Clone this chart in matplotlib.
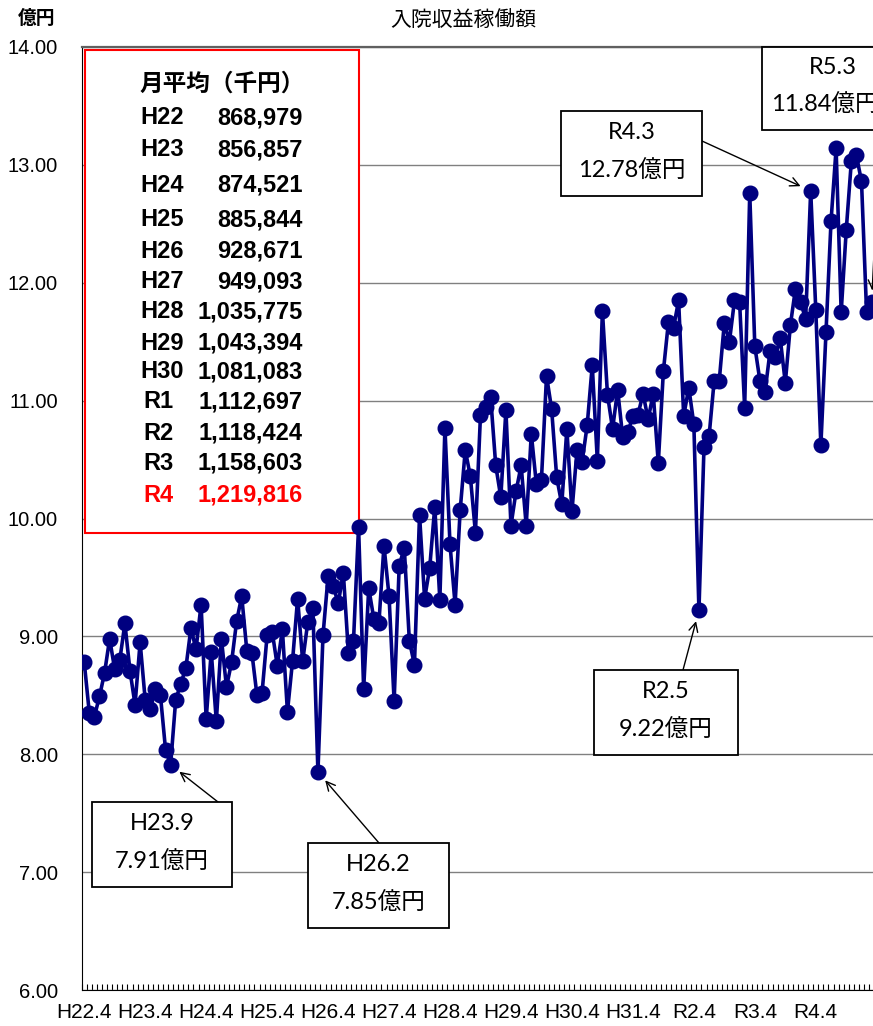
import matplotlib
matplotlib.use("Agg")
import matplotlib.pyplot as plt
from matplotlib.patches import Rectangle
import numpy as np

plt.rcParams['font.family'] = ['Liberation Sans Narrow', 'Liberation Sans', 'Noto Sans CJK JP', 'DejaVu Sans']

# monthly inpatient revenue (億円), H22.4 .. R5.3
revenue = [
    8.78, 8.35, 8.32, 8.49, 8.69, 8.98, 8.72, 8.80, 9.11, 8.71, 8.42, 8.95,
    8.46, 8.38, 8.55, 8.50, 8.04, 7.91, 8.46, 8.60, 8.73, 9.07, 8.89, 9.27,
    8.30, 8.87, 8.28, 8.98, 8.57, 8.78, 9.13, 9.34, 8.88, 8.86, 8.50, 8.52,
    9.01, 9.04, 8.75, 9.06, 8.36, 8.79, 9.32, 8.79, 9.12, 9.24, 7.85, 9.01,
    9.51, 9.43, 9.28, 9.54, 8.86, 8.96, 9.93, 8.55, 9.41, 9.15, 9.11, 9.77,
    9.34, 8.45, 9.60, 9.75, 8.96, 8.76, 10.03, 9.32, 9.58, 10.10, 9.31, 10.77,
    9.78, 9.27, 10.07, 10.58, 10.36, 9.88, 10.88, 10.95, 11.03, 10.45, 10.18, 10.92,
    9.94, 10.23, 10.45, 9.94, 10.72, 10.29, 10.33, 11.21, 10.93, 10.35, 10.12, 10.76,
    10.06, 10.58, 10.48, 10.79, 11.30, 10.49, 11.76, 11.05, 10.76, 11.09, 10.69, 10.73,
    10.87, 10.88, 11.06, 10.84, 11.06, 10.47, 11.25, 11.67, 11.62, 11.85, 10.87, 11.11,
    10.80, 9.22, 10.61, 10.70, 11.17, 11.17, 11.66, 11.50, 11.85, 11.84, 10.94, 12.76,
    11.46, 11.17, 11.07, 11.42, 11.37, 11.53, 11.15, 11.64, 11.95, 11.84, 11.69, 12.78,
    11.77, 10.62, 11.58, 12.52, 13.14, 11.75, 12.45, 13.03, 13.08, 12.86, 11.75, 11.84,
]
year_labels = ['H22.4', 'H23.4', 'H24.4', 'H25.4', 'H26.4', 'H27.4', 'H28.4',
               'H29.4', 'H30.4', 'H31.4', 'R2.4', 'R3.4', 'R4.4']

avg_years = ['H22', 'H23', 'H24', 'H25', 'H26', 'H27', 'H28', 'H29', 'H30',
             'R1', 'R2', 'R3', 'R4']
avg_values = ['868,979', '856,857', '874,521', '885,844', '928,671', '949,093',
              '1,035,775', '1,043,394', '1,081,083', '1,112,697', '1,118,424',
              '1,158,603', '1,219,816']

# (month index, label, value text)
callouts = [
    (17, 'H23.9', '7.91億円'),
    (46, 'H26.2', '7.85億円'),
    (121, 'R2.5', '9.22億円'),
    (143, 'R4.3', '12.78億円'),
    (155, 'R5.3', '11.84億円'),
]

W, H = 873, 1026


def fp(x, y):
    # pixel (from top-left) -> figure fraction
    return (x / W, 1 - y / H)


fig = plt.figure(figsize=(W / 100, H / 100), dpi=100)
ax_left, ax_top, ax_bottom = 81.7, 47, 990
ax = fig.add_axes([ax_left / W, 1 - ax_bottom / H, 792.5 / W, (ax_bottom - ax_top) / H])

x = np.arange(len(revenue))
ax.plot(x, revenue, color='#000080', lw=2.6, marker='o', ms=10.5,
        markerfacecolor='#000080', markeredgecolor='#000080', zorder=3)

ax.set_xlim(-0.5, len(revenue) - 0.5)
ax.set_ylim(6, 14)
ax.set_yticks(np.arange(6, 14.01, 1))
ax.set_yticklabels([f'{v:.2f}' for v in np.arange(6, 14.01, 1)])
ax.yaxis.grid(True, color='#808080', lw=1)
ax.set_axisbelow(True)

ax.set_xticks(np.arange(0, len(revenue), 12)[:len(year_labels)])
ax.set_xticklabels(year_labels)
ax.set_xticks(np.arange(-0.5, len(revenue), 1), minor=True)
ax.tick_params(axis='x', which='major', length=0, pad=9, labelsize=15)
ax.tick_params(axis='x', which='minor', length=4, direction='in', width=0.8)
ax.tick_params(axis='y', length=0, pad=17, labelsize=14.5)

ax.spines['right'].set_visible(False)
ax.spines['top'].set_color('#606060')
ax.spines['top'].set_linewidth(1.6)
ax.spines['left'].set_color('black')
ax.spines['bottom'].set_color('black')

# titles
fig.text(*fp(463, 20), '入院収益稼働額', ha='center', va='center', fontsize=15,
         family=['Noto Sans CJK JP'])
fig.text(*fp(37, 18), '億円', ha='center', va='center', fontsize=13.5,
         fontweight='bold', family=['Noto Sans CJK JP'])

# monthly average box
bx0, by0, bx1, by1 = fp(85, 533) + fp(359, 50)
box = Rectangle((bx0, by0), bx1 - bx0, by1 - by0, transform=fig.transFigure,
                facecolor='white', edgecolor='#FF0000', lw=1.5, zorder=2)
ax.add_patch(box)
box.set_clip_on(False)
fig.text(*fp(222, 84), '月平均（千円）', ha='center', va='center', fontsize=17,
         fontweight='bold', family=['Noto Sans CJK JP'], zorder=5)
row_y = [118, 150, 185, 220, 251, 282, 312, 343, 372, 402, 433, 463, 495]
for name, val, ry in zip(avg_years, avg_values, row_y):
    col = '#FF0000' if name == 'R4' else 'black'
    lx = 140 if name.startswith('H') else 143
    fig.text(*fp(lx, ry), name, ha='left', va='center', fontsize=17,
             fontweight='bold', color=col, family=['Liberation Sans'], zorder=5)
    fig.text(*fp(303, ry), val, ha='right', va='center', fontsize=17,
             fontweight='bold', color=col, family=['Liberation Sans'], zorder=5)

# callout boxes: left, top, right, bottom, arrow start
callout_geom = [
    (92, 802, 232, 887, (218, 802)),
    (308, 843, 449, 928, (379, 843)),
    (594, 670, 738, 755, (683, 670)),
    (561, 111, 702, 196, (702, 141)),
    (762, 47, 905, 130, (880, 130)),
]
for (idx, lab, txt), (l, t, r, b, start) in zip(callouts, callout_geom):
    x0, y0 = fp(l, b)
    x1, y1 = fp(r, t)
    rect = Rectangle((x0, y0), x1 - x0, y1 - y0, transform=fig.transFigure,
                     facecolor='white', edgecolor='black', lw=1.3, zorder=6)
    ax.add_patch(rect)
    rect.set_clip_on(False)
    h = b - t
    if r < W:
        cx = (l + r) / 2
        fig.text(*fp(cx, t + h * 0.70), txt, ha='center', va='center', fontsize=17,
                 family=['Lato', 'Noto Sans CJK JP'], zorder=7)
    else:
        # this box runs off the right edge, as in the source chart
        cx = 833
        fig.text(*fp(771, t + h * 0.70), txt, ha='left', va='center', fontsize=17,
                 family=['Lato', 'Noto Sans CJK JP'], zorder=7)
    fig.text(*fp(cx, t + h * 0.25), lab, ha='center', va='center', fontsize=17,
             family=['Lato', 'Noto Sans CJK JP'], zorder=7)
    ax.annotate('', xy=(idx, revenue[idx]), xycoords='data',
                xytext=fp(*start), textcoords='figure fraction',
                arrowprops=dict(arrowstyle='->', color='black', lw=1,
                                shrinkA=0, shrinkB=8, mutation_scale=16),
                zorder=5, annotation_clip=False)

fig.savefig('out.png', dpi=100)
